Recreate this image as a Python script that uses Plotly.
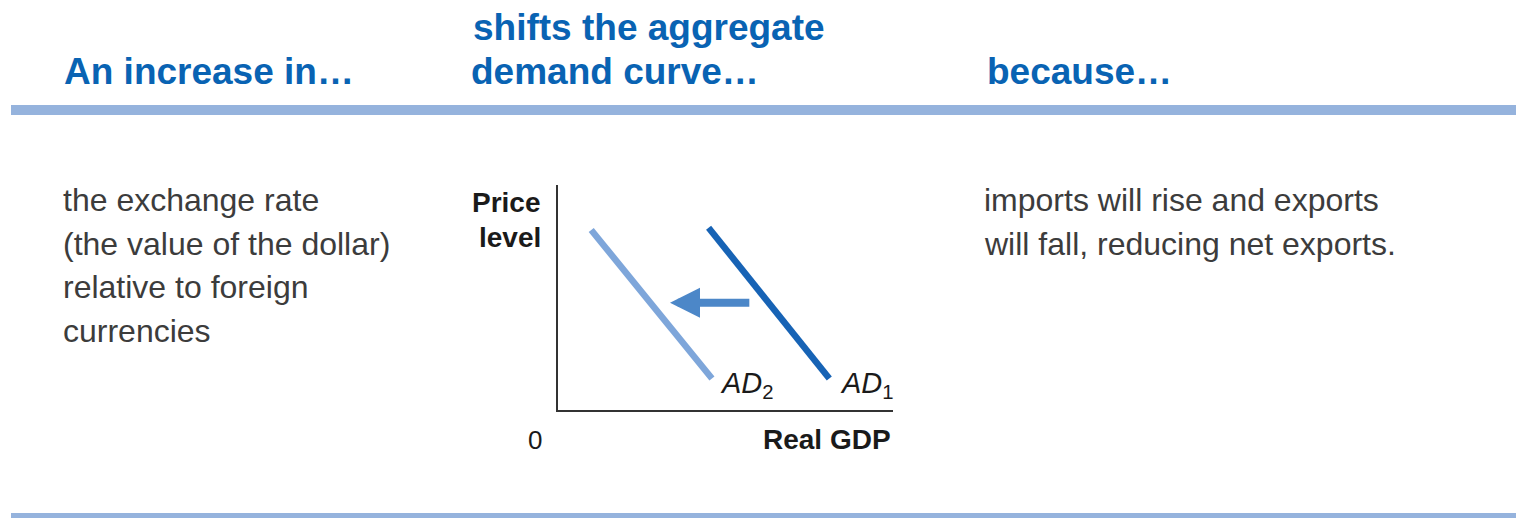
import plotly.graph_objects as go

W, H = 1516, 518

# --- table text ---
headers = ["An increase in…", "shifts the aggregate", "demand curve…", "because…"]
cause_lines = ["the exchange rate", "(the value of the dollar)", "relative to foreign", "currencies"]
reason_lines = ["imports will rise and exports", "will fall, reducing net exports."]

# --- AD curves (arbitrary units, 0-100) ---
ad1_x = [45, 81]
ad1_y = [81, 14]
ad2_x = [10, 46]
ad2_y = [80, 14]
shift_from = (57.6, 47.7)
shift_to = (33.5, 47.7)

HEAD_BLUE = "#0963b3"
RULE_BLUE = "#95b3dd"
TEXT_GREY = "#3c3c3c"


def px(x):
    return x / W


def py(y):
    return 1 - y / H


fig = go.Figure()

fig.add_trace(go.Scatter(x=ad2_x, y=ad2_y, mode="lines",
                         line=dict(color="#7ea6da", width=6.5), hoverinfo="skip"))
fig.add_trace(go.Scatter(x=ad1_x, y=ad1_y, mode="lines",
                         line=dict(color="#1763b5", width=6.5), hoverinfo="skip"))

ann = []
# header row
hdr_font = dict(family="Liberation Sans, Arial", size=37, color=HEAD_BLUE)
ann.append(dict(text="<b>%s</b>" % headers[0], x=px(62), y=py(71), xanchor="left", yanchor="middle", font=hdr_font))
ann.append(dict(text="<b>%s</b>" % headers[1], x=px(471), y=py(27), xanchor="left", yanchor="middle", font=hdr_font))
ann.append(dict(text="<b>%s</b>" % headers[2], x=px(469), y=py(71), xanchor="left", yanchor="middle", font=hdr_font))
ann.append(dict(text="<b>%s</b>" % headers[3], x=px(985), y=py(71), xanchor="left", yanchor="middle", font=hdr_font))

body_font = dict(family="Liberation Sans, Arial", size=32, color=TEXT_GREY)
for i, t in enumerate(cause_lines):
    ann.append(dict(text=t, x=px(61), y=py(200 + i * 43.5), xanchor="left", yanchor="middle", font=body_font))
for i, t in enumerate(reason_lines):
    ann.append(dict(text=t, x=px(982), y=py(200 + i * 43.5), xanchor="left", yanchor="middle", font=body_font))

# chart labels
lab_font = dict(family="Liberation Sans, Arial", size=28, color="#1a1a1a")
ann.append(dict(text="<b>Price</b>", x=px(543), y=py(202), xanchor="right", yanchor="middle", font=lab_font))
ann.append(dict(text="<b>level</b>", x=px(543), y=py(238), xanchor="right", yanchor="middle", font=lab_font))
ann.append(dict(text="<b>Real GDP</b>", x=px(893), y=py(439), xanchor="right", yanchor="middle", font=lab_font))
ann.append(dict(text="0", x=px(535), y=py(440), xanchor="center", yanchor="middle",
                font=dict(family="Liberation Sans, Arial", size=26, color="#1a1a1a")))
ad_font = dict(family="Liberation Sans, Arial", size=29, color="#1a1a1a")
ann.append(dict(text="<i>AD</i><sub>2</sub>", x=ad2_x[1], y=ad2_y[1], xref="x", yref="y",
                xanchor="left", yanchor="middle", xshift=6, yshift=-6, font=ad_font))
ann.append(dict(text="<i>AD</i><sub>1</sub>", x=ad1_x[1], y=ad1_y[1], xref="x", yref="y",
                xanchor="left", yanchor="middle", xshift=9, yshift=-6, font=ad_font))

for a in ann:
    a.setdefault("xref", "paper")
    a.setdefault("yref", "paper")
    a["showarrow"] = False

# shift arrow
ann.append(dict(x=shift_to[0], y=shift_to[1], ax=shift_from[0], ay=shift_from[1],
                xref="x", yref="y", axref="x", ayref="y", text="", showarrow=True,
                arrowhead=2, arrowsize=0.75, arrowwidth=8, arrowcolor="#4c87c8"))

shapes = [
    dict(type="line", xref="paper", yref="paper", x0=px(11), x1=1, y0=py(110), y1=py(110),
         line=dict(color=RULE_BLUE, width=10)),
    dict(type="line", xref="paper", yref="paper", x0=px(11), x1=1, y0=py(516), y1=py(516),
         line=dict(color=RULE_BLUE, width=6)),
]

fig.update_layout(
    width=W, height=H,
    margin=dict(l=0, r=0, t=0, b=0),
    paper_bgcolor="white", plot_bgcolor="white",
    showlegend=False,
    annotations=ann,
    shapes=shapes,
    xaxis=dict(domain=[px(557.7), px(893)], range=[0, 100], showgrid=False, zeroline=False,
               showticklabels=False, ticks="", showline=True, linecolor="#333333", linewidth=1.5),
    yaxis=dict(domain=[py(410), py(185)], range=[0, 100], showgrid=False, zeroline=False,
               showticklabels=False, ticks="", showline=True, linecolor="#333333", linewidth=1.5),
)

# drop the default page margin so the figure sits at the window origin
fig.write_html("out.html", config={"displayModeBar": False},
               post_script="document.body.style.margin='0';")
